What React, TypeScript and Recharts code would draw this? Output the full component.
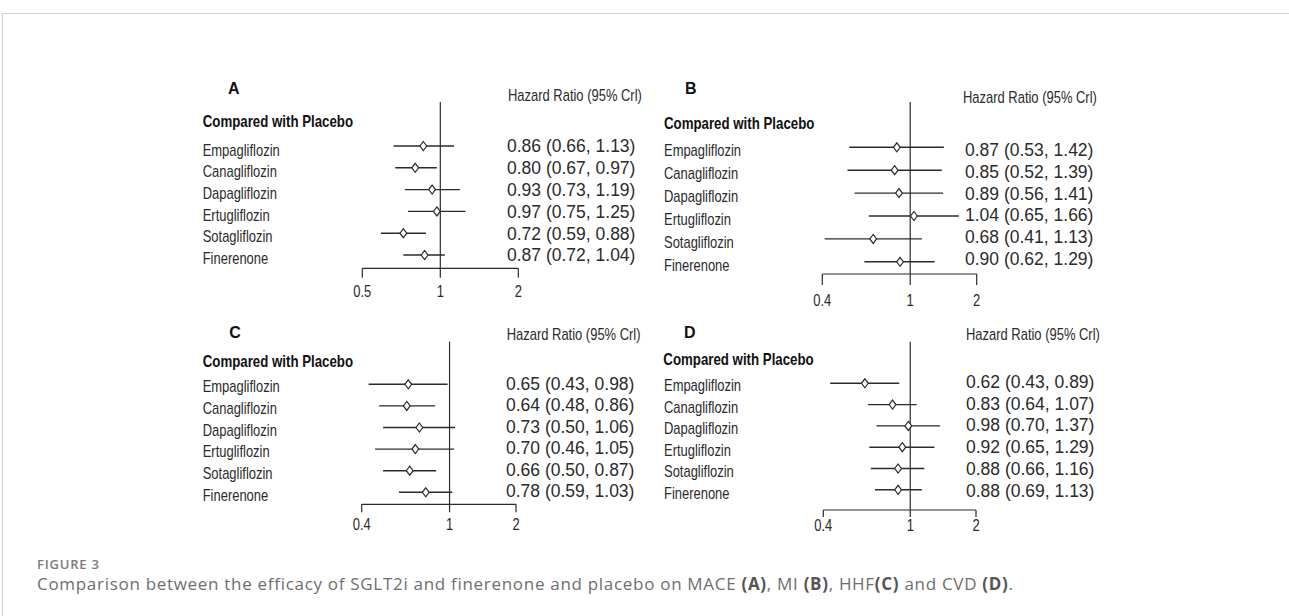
import { ScatterChart, Scatter, XAxis, YAxis, ErrorBar, ReferenceLine } from "recharts";

const W = 1289;
const H = 616;

const drugs = ["Empagliflozin", "Canagliflozin", "Dapagliflozin", "Ertugliflozin", "Sotagliflozin", "Finerenone"];

// MACE (A)
const maceHr = [0.86, 0.8, 0.93, 0.97, 0.72, 0.87];
const maceLo = [0.66, 0.67, 0.73, 0.75, 0.59, 0.72];
const maceHi = [1.13, 0.97, 1.19, 1.25, 0.88, 1.04];
// MI (B)
const miHr = [0.87, 0.85, 0.89, 1.04, 0.68, 0.9];
const miLo = [0.53, 0.52, 0.56, 0.65, 0.41, 0.62];
const miHi = [1.42, 1.39, 1.41, 1.66, 1.13, 1.29];
// HHF (C)
const hhfHr = [0.65, 0.64, 0.73, 0.7, 0.66, 0.78];
const hhfLo = [0.43, 0.48, 0.5, 0.46, 0.5, 0.59];
const hhfHi = [0.98, 0.86, 1.06, 1.05, 0.87, 1.03];
// CVD (D)
const cvdHr = [0.62, 0.83, 0.98, 0.92, 0.88, 0.88];
const cvdLo = [0.43, 0.64, 0.7, 0.65, 0.66, 0.69];
const cvdHi = [0.89, 1.07, 1.37, 1.29, 1.16, 1.13];

const ticksA = [0.5, 1, 2];
const ticksBCD = [0.4, 1, 2];
const rowTicks = [0, 1, 2, 3, 4, 5];

const INK = "#2b2b2b";
const FONT = "'Liberation Sans', Arial, sans-serif";
const NARROW = 0.81;

const panels = [
  {
    letter: "A", hr: maceHr, lo: maceLo, hi: maceHi, ticks: ticksA,
    plotLeft: 362.3, plotRight: 518.3, plotTop: 102, axisY: 268.3, tickLen: 9.5, tickBase: 296.7,
    rowY0: 146, rowStep: 21.8, labX: 202.7, labY0: 150, labStep: 21.7, estX: 507, estY0: 146, estStep: 21.8,
    letterX: 228, letterBase: 94, hrX: 508, hrBase: 101, cmpX: 202.7, cmpBase: 127.3,
  },
  {
    letter: "B", hr: miHr, lo: miLo, hi: miHi, ticks: ticksBCD,
    plotLeft: 822.3, plotRight: 976.7, plotTop: 102, axisY: 274, tickLen: 11, tickBase: 306,
    rowY0: 147.3, rowStep: 22.9, labX: 664, labY0: 150, labStep: 23, estX: 965, estY0: 150, estStep: 21.7,
    letterX: 685, letterBase: 94, hrX: 963, hrBase: 103.3, cmpX: 664, cmpBase: 129.3,
  },
  {
    letter: "C", hr: hhfHr, lo: hhfLo, hi: hhfHi, ticks: ticksBCD,
    plotLeft: 361.7, plotRight: 516, plotTop: 341.7, axisY: 504.3, tickLen: 8, tickBase: 530,
    rowY0: 384.3, rowStep: 21.6, labX: 202.7, labY0: 386.7, labStep: 21.7, estX: 506, estY0: 383.3, estStep: 21.5,
    letterX: 229.3, letterBase: 337.7, hrX: 506.7, hrBase: 340, cmpX: 202.7, cmpBase: 367.3,
  },
  {
    letter: "D", hr: cvdHr, lo: cvdLo, hi: cvdHi, ticks: ticksBCD,
    plotLeft: 823.3, plotRight: 976, plotTop: 341.7, axisY: 510, tickLen: 7, tickBase: 531,
    rowY0: 383.3, rowStep: 21.3, labX: 664, labY0: 385.7, labStep: 21.5, estX: 966, estY0: 381.7, estStep: 21.7,
    letterX: 684, letterBase: 337.7, hrX: 966, hrBase: 340, cmpX: 663.3, cmpBase: 365,
  },
];

const fmt = (v: number) => v.toFixed(2);

const Diamond = (props: any) => {
  const { cx, cy } = props;
  if (cx == null || cy == null) return null;
  return (
    <polygon
      points={`${cx},${cy - 4.5} ${cx + 3.4},${cy} ${cx},${cy + 4.5} ${cx - 3.4},${cy}`}
      fill="#fff"
      stroke={INK}
      strokeWidth={1.2}
    />
  );
};

function Forest({ p }: { p: any }) {
  const data = drugs.map((name, i) => ({
    name,
    row: i,
    hr: p.hr[i],
    err: [p.hr[i] - p.lo[i], p.hi[i] - p.hr[i]],
    est: `${fmt(p.hr[i])} (${fmt(p.lo[i])}, ${fmt(p.hi[i])})`,
  }));
  const dom = (y0: number, step: number) => [(p.plotTop - y0) / step, (p.axisY - y0) / step];

  return (
    <div style={{ position: "absolute", left: 0, top: 0 }}>
      <ScatterChart width={W} height={H} data={data} margin={{ top: p.plotTop, right: 0, bottom: 0, left: 0 }}>
        <XAxis
          dataKey="hr"
          type="number"
          scale="log"
          domain={[p.ticks[0], p.ticks[p.ticks.length - 1]]}
          ticks={p.ticks}
          interval={0}
          allowDataOverflow
          height={H - p.axisY}
          tickSize={p.tickLen}
          axisLine={{ stroke: INK, strokeWidth: 1.2 }}
          tickLine={{ stroke: INK, strokeWidth: 1.2 }}
          tick={(t: any) => (
            <text
              transform={`translate(${t.x},${p.tickBase}) scale(${NARROW},1)`}
              textAnchor="middle"
              fontSize={16}
              fontFamily={FONT}
              fill={INK}
            >
              {t.payload.value}
            </text>
          )}
        />
        <YAxis yAxisId="rows" dataKey="row" type="number" domain={dom(p.rowY0, p.rowStep)} allowDataOverflow reversed hide />
        <YAxis
          yAxisId="lab"
          orientation="left"
          type="number"
          domain={dom(p.labY0, p.labStep)}
          allowDataOverflow
          reversed
          ticks={rowTicks}
          interval={0}
          width={p.plotLeft}
          axisLine={false}
          tickLine={false}
          tick={(t: any) => (
            <text
              transform={`translate(${p.labX},${t.y + 5.5}) scale(${NARROW},1)`}
              fontSize={16}
              fontFamily={FONT}
              fill={INK}
            >
              {drugs[t.payload.value]}
            </text>
          )}
        />
        <YAxis
          yAxisId="est"
          orientation="right"
          type="number"
          domain={dom(p.estY0, p.estStep)}
          allowDataOverflow
          reversed
          ticks={rowTicks}
          interval={0}
          width={W - p.plotRight}
          axisLine={false}
          tickLine={false}
          tick={(t: any) => (
            <text x={p.estX} y={t.y + 6.3} fontSize={17.5} fontFamily={FONT} fill={INK}>
              {data[t.payload.value].est}
            </text>
          )}
        />
        <ReferenceLine x={1} yAxisId="rows" stroke={INK} strokeWidth={1.2} />
        <Scatter yAxisId="rows" dataKey="row" shape={Diamond} isAnimationActive={false}>
          <ErrorBar dataKey="err" direction="x" width={0} stroke={INK} strokeWidth={1.4} />
        </Scatter>
      </ScatterChart>
    </div>
  );
}

function Headers() {
  return (
    <svg width={W} height={H} style={{ position: "absolute", left: 0, top: 0 }}>
      {panels.map((p) => (
        <g key={p.letter} fontFamily={FONT} fill={INK}>
          <text x={p.letterX} y={p.letterBase} fontSize={16} fontWeight={700} fill="#111">
            {p.letter}
          </text>
          <text transform={`translate(${p.hrX},${p.hrBase}) scale(${NARROW},1)`} fontSize={16}>
            Hazard Ratio (95% Crl)
          </text>
          <text transform={`translate(${p.cmpX},${p.cmpBase}) scale(0.83,1)`} fontSize={16} fontWeight={700} fill="#111">
            Compared with Placebo
          </text>
        </g>
      ))}
    </svg>
  );
}

export default function App() {
  return (
    <div style={{ position: "absolute", left: 0, top: 0, width: W, height: H, background: "#fff", overflow: "hidden" }}>
      <div
        style={{
          position: "absolute",
          left: 2,
          top: 13,
          width: W - 2,
          height: H - 13,
          borderTop: "1px solid #d0d0d0",
          borderLeft: "1px solid #d0d0d0",
          boxSizing: "border-box",
        }}
      />
      {panels.map((p) => (
        <Forest key={p.letter} p={p} />
      ))}
      <Headers />
      <div
        style={{
          position: "absolute",
          left: 37,
          top: 555,
          fontFamily: "'Open Sans', sans-serif",
          fontSize: 13,
          fontWeight: 600,
          color: "#7a7a7a",
          letterSpacing: 0.8,
        }}
      >
        FIGURE 3
      </div>
      <div
        style={{
          position: "absolute",
          left: 37,
          top: 572,
          fontFamily: "'Open Sans', sans-serif",
          fontSize: 17,
          color: "#6e6e6e",
          letterSpacing: 0.7,
          whiteSpace: "nowrap",
        }}
      >
        Comparison between the efficacy of SGLT2i and finerenone and placebo on MACE <b style={{ color: "#555" }}>(A)</b>, MI{" "}
        <b style={{ color: "#555" }}>(B)</b>, HHF<b style={{ color: "#555" }}>(C)</b> and CVD <b style={{ color: "#555" }}>(D)</b>.
      </div>
    </div>
  );
}
